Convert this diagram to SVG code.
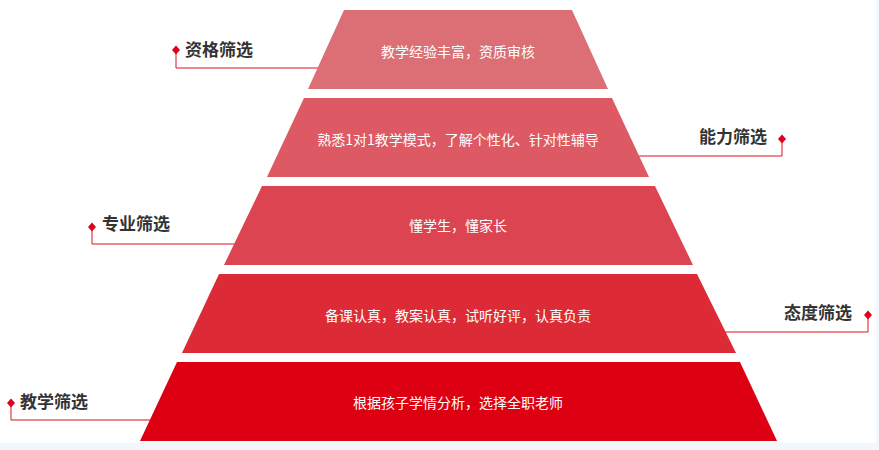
<svg xmlns="http://www.w3.org/2000/svg" width="879" height="450" viewBox="0 0 879 450">
<style>
.tier-text{font-family:"Noto Sans CJK SC","Noto Sans",sans-serif;font-size:14px;fill:#ffffff;text-anchor:middle}
.label{font-family:"Noto Sans CJK SC","Noto Sans",sans-serif;font-size:17px;font-weight:700;fill:#333333}
.conn{fill:none;stroke:#e0101e;stroke-width:1}
.dot{fill:#e0001a}
</style>
<defs>
<path id="dia" d="M0,-4.5 L4,0 L0,4.5 L-4,0 Z"/>
</defs>
<rect x="0" y="0" width="879" height="450" fill="#f2f7fc"/>
<rect x="0" y="0" width="876" height="443" fill="#ffffff"/>

<g id="connectors">
<polyline class="conn" points="176,51 176,68 320,68"/>
<polyline class="conn" points="782,139 782,156 639,156"/>
<polyline class="conn" points="92,227 92,244 235,244"/>
<polyline class="conn" points="868,315 868,332 725,332"/>
<polyline class="conn" points="11,403 11,420 150,420"/>
</g>

<g id="tier1">
<polygon points="344,10 572,10 608,89 308,89" fill="#dc6f76"/>
<text class="tier-text" x="458" y="57">教学经验丰富，资质审核</text>
</g>
<g id="tier2">
<polygon points="304,98 612,98 649,177 267,177" fill="#dd5963"/>
<text class="tier-text" x="458" y="145">熟悉1对1教学模式，了解个性化、针对性辅导</text>
</g>
<g id="tier3">
<polygon points="262,186 655,186 693,265 224,265" fill="#dc4451"/>
<text class="tier-text" x="458" y="231">懂学生，懂家长</text>
</g>
<g id="tier4">
<polygon points="219,274 697,274 736,353 182,353" fill="#dc2b36"/>
<text class="tier-text" x="458" y="321">备课认真，教案认真，试听好评，认真负责</text>
</g>
<g id="tier5">
<polygon points="177,362 740,362 777,441 140,441" fill="#dd0012"/>
<text class="tier-text" x="458" y="408">根据孩子学情分析，选择全职老师</text>
</g>

<g id="label-zige">
<use href="#dia" class="dot" x="176" y="50"/>
<text class="label" x="185" y="56">资格筛选</text>
</g>
<g id="label-nengli">
<use href="#dia" class="dot" x="782" y="139"/>
<text class="label" x="699" y="143">能力筛选</text>
</g>
<g id="label-zhuanye">
<use href="#dia" class="dot" x="92" y="227"/>
<text class="label" x="102" y="230">专业筛选</text>
</g>
<g id="label-taidu">
<use href="#dia" class="dot" x="868" y="315"/>
<text class="label" x="784" y="319">态度筛选</text>
</g>
<g id="label-jiaoxue">
<use href="#dia" class="dot" x="11" y="403"/>
<text class="label" x="20" y="408">教学筛选</text>
</g>
</svg>
